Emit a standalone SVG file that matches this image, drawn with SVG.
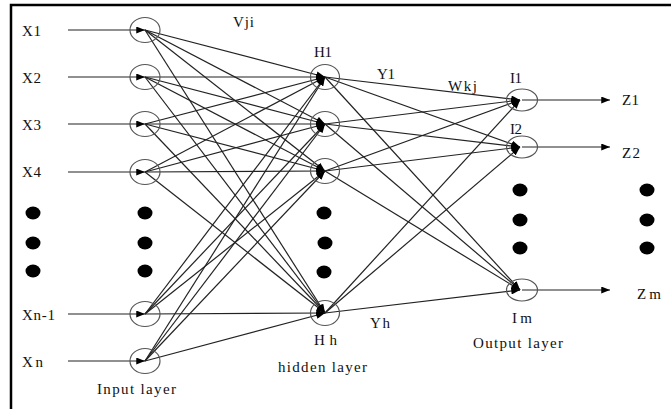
<svg xmlns="http://www.w3.org/2000/svg" width="671" height="409" viewBox="0 0 671 409">
<defs>
<marker id="ah" viewBox="0 0 10 8" refX="10" refY="4" markerWidth="9" markerHeight="7" markerUnits="userSpaceOnUse" orient="auto"><path d="M0,0 L10,4 L0,8 Z" fill="#000"/></marker>
<style>
.t{font-family:"Liberation Serif","Times New Roman",serif;font-size:15px;fill:#111}
.n{fill:none;stroke:#555;stroke-width:1.2}
.c line{stroke:#222;stroke-width:1.2;marker-end:url(#ah)}
.d{fill:#000}
</style>
</defs>
<rect width="671" height="409" fill="#fff"/>
<g id="frame" stroke="#000" stroke-width="2.5" fill="none"><path d="M11,409 V5 H671"/></g>

<g id="connectors" class="c">
<line x1="68" y1="30" x2="145" y2="30"/>
<line x1="68" y1="77" x2="145" y2="77"/>
<line x1="68" y1="124" x2="145" y2="124"/>
<line x1="68" y1="172" x2="145" y2="172"/>
<line x1="68" y1="314" x2="145" y2="314"/>
<line x1="68" y1="361" x2="145" y2="361"/>
<line x1="145" y1="30" x2="325" y2="77"/><line x1="145" y1="30" x2="325" y2="124"/><line x1="145" y1="30" x2="325" y2="171"/><line x1="145" y1="30" x2="325" y2="313"/>
<line x1="145" y1="77" x2="325" y2="77"/><line x1="145" y1="77" x2="325" y2="124"/><line x1="145" y1="77" x2="325" y2="171"/><line x1="145" y1="77" x2="325" y2="313"/>
<line x1="145" y1="124" x2="325" y2="77"/><line x1="145" y1="124" x2="325" y2="124"/><line x1="145" y1="124" x2="325" y2="171"/><line x1="145" y1="124" x2="325" y2="313"/>
<line x1="145" y1="172" x2="325" y2="77"/><line x1="145" y1="172" x2="325" y2="124"/><line x1="145" y1="172" x2="325" y2="171"/><line x1="145" y1="172" x2="325" y2="313"/>
<line x1="145" y1="314" x2="325" y2="77"/><line x1="145" y1="314" x2="325" y2="124"/><line x1="145" y1="314" x2="325" y2="171"/><line x1="145" y1="314" x2="325" y2="313"/>
<line x1="145" y1="361" x2="325" y2="77"/><line x1="145" y1="361" x2="325" y2="124"/><line x1="145" y1="361" x2="325" y2="171"/><line x1="145" y1="361" x2="325" y2="313"/>
<line x1="325" y1="77" x2="520" y2="100"/><line x1="325" y1="77" x2="520" y2="147"/><line x1="325" y1="77" x2="520" y2="290"/>
<line x1="325" y1="124" x2="520" y2="100"/><line x1="325" y1="124" x2="520" y2="147"/><line x1="325" y1="124" x2="520" y2="290"/>
<line x1="325" y1="171" x2="520" y2="100"/><line x1="325" y1="171" x2="520" y2="147"/><line x1="325" y1="171" x2="520" y2="290"/>
<line x1="325" y1="313" x2="520" y2="100"/><line x1="325" y1="313" x2="520" y2="147"/><line x1="325" y1="313" x2="520" y2="290"/>
<line x1="522" y1="100" x2="610" y2="100"/>
<line x1="522" y1="147" x2="610" y2="147"/>
<line x1="522" y1="290" x2="610" y2="290"/>
</g>

<g id="input1"><ellipse class="n" cx="145" cy="30" rx="15" ry="12.5"/><text class="t" x="22" y="36" textLength="19">X1</text></g>
<g id="input2"><ellipse class="n" cx="145" cy="77" rx="15" ry="12.5"/><text class="t" x="22" y="83" textLength="19">X2</text></g>
<g id="input3"><ellipse class="n" cx="145" cy="124" rx="15" ry="12.5"/><text class="t" x="22" y="130" textLength="19">X3</text></g>
<g id="input4"><ellipse class="n" cx="145" cy="172" rx="15" ry="12.5"/><text class="t" x="22" y="177" textLength="19">X4</text></g>
<g id="inputn1"><ellipse class="n" cx="145" cy="314" rx="15" ry="12.5"/><text class="t" x="22" y="320" textLength="33">Xn-1</text></g>
<g id="inputn"><ellipse class="n" cx="145" cy="361" rx="15" ry="12.5"/><text class="t" x="22" y="367" textLength="21">Xn</text></g>

<g id="hidden1"><ellipse class="n" cx="325" cy="77" rx="14.5" ry="12.5"/><text class="t" x="314" y="57" textLength="18">H1</text></g>
<g id="hidden2"><ellipse class="n" cx="325" cy="124" rx="14.5" ry="12.5"/></g>
<g id="hidden3"><ellipse class="n" cx="325" cy="171" rx="14.5" ry="12.5"/></g>
<g id="hiddenh"><ellipse class="n" cx="325" cy="313" rx="14.5" ry="12.5"/><text class="t" x="314" y="345" textLength="23">Hh</text></g>

<g id="output1"><ellipse class="n" cx="522" cy="100" rx="15.5" ry="11"/><text class="t" x="510" y="83" textLength="12">I1</text></g>
<g id="output2"><ellipse class="n" cx="522" cy="147" rx="15.5" ry="11"/><text class="t" x="510" y="134" textLength="12">I2</text></g>
<g id="outputm"><ellipse class="n" cx="522" cy="290" rx="15.5" ry="11"/><text class="t" x="512" y="323" textLength="20">Im</text></g>

<g id="z1"><text class="t" x="622" y="105" textLength="17">Z1</text></g>
<g id="z2"><text class="t" x="622" y="158" textLength="18">Z2</text></g>
<g id="zm"><text class="t" x="637" y="299" textLength="24">Zm</text></g>

<g id="ellipsis" class="d">
<ellipse cx="33" cy="213" rx="7.5" ry="6.5"/><ellipse cx="33" cy="243" rx="7.5" ry="6.5"/><ellipse cx="33" cy="271" rx="7.5" ry="6.5"/>
<ellipse cx="145" cy="213" rx="7.5" ry="6.5"/><ellipse cx="145" cy="243" rx="7.5" ry="6.5"/><ellipse cx="145" cy="271" rx="7.5" ry="6.5"/>
<ellipse cx="324" cy="213" rx="7.5" ry="6.5"/><ellipse cx="325" cy="243" rx="7.5" ry="6.5"/><ellipse cx="324" cy="272" rx="7.5" ry="6.5"/>
<ellipse cx="520" cy="190" rx="7.5" ry="6.5"/><ellipse cx="520" cy="220" rx="7.5" ry="6.5"/><ellipse cx="520" cy="248" rx="7.5" ry="6.5"/>
<ellipse cx="647" cy="190" rx="7.5" ry="6.5"/><ellipse cx="647" cy="220" rx="7.5" ry="6.5"/><ellipse cx="647" cy="248" rx="7.5" ry="6.5"/>
</g>

<g id="labels">
<text class="t" x="233" y="27" textLength="21">Vji</text>
<text class="t" x="377" y="79" textLength="18">Y1</text>
<text class="t" x="448" y="91" textLength="29">Wkj</text>
<text class="t" x="370" y="328" textLength="20">Yh</text>
<text class="t" x="97" y="394" textLength="79">Input layer</text>
<text class="t" x="278" y="372" textLength="89">hidden layer</text>
<text class="t" x="473" y="348" textLength="90">Output layer</text>
</g>
</svg>
